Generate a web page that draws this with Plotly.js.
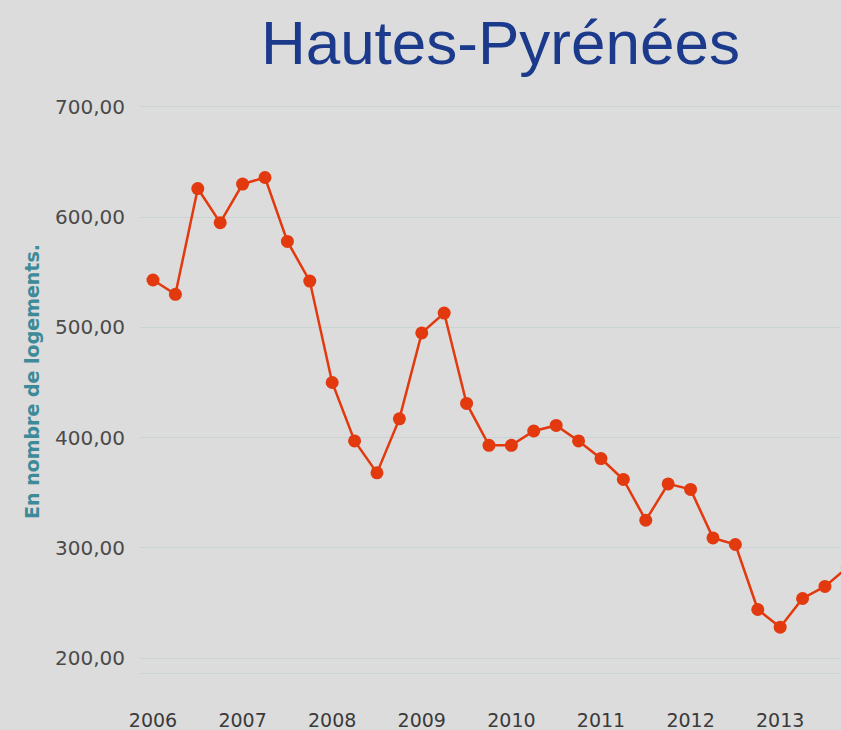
<!DOCTYPE html>
<html>
<head>
<meta charset="utf-8">
<script src="https://cdn.plot.ly/plotly-3.0.1.min.js"></script>
<style>html,body{margin:0;padding:0;background:#dcdcdc;}#chart{width:841px;height:730px;}</style>
</head>
<body>
<div id="chart"></div>
<script>
const quarters = [2006.00, 2006.25, 2006.50, 2006.75, 2007.00, 2007.25, 2007.50, 2007.75,
                  2008.00, 2008.25, 2008.50, 2008.75, 2009.00, 2009.25, 2009.50, 2009.75,
                  2010.00, 2010.25, 2010.50, 2010.75, 2011.00, 2011.25, 2011.50, 2011.75,
                  2012.00, 2012.25, 2012.50, 2012.75, 2013.00, 2013.25, 2013.50, 2013.75];
const logements = [543, 530, 626, 595, 630, 636, 578, 542,
                   450, 397, 368, 417, 495, 513, 431, 393,
                   393, 406, 411, 397, 381, 362, 325, 358,
                   353, 309, 303, 244, 228, 254, 265, 282];
const yearTicks = [2006, 2007, 2008, 2009, 2010, 2011, 2012, 2013];
const yearLabels = ['2006', '2007', '2008', '2009', '2010', '2011', '2012', '2013'];
const yTicks = [200, 300, 400, 500, 600, 700];

const trace = {
  x: quarters, y: logements, type: 'scatter', mode: 'lines+markers',
  line: {color: '#e2390f', width: 2.5},
  marker: {color: '#e2390f', size: 13},
  cliponaxis: true, hoverinfo: 'skip'
};

const layout = {
  width: 841, height: 730,
  paper_bgcolor: '#dcdcdc', plot_bgcolor: '#dcdcdc',
  separators: ', ',
  margin: {l: 140, r: 0, t: 90, b: 57},
  showlegend: false,
  title: {text: 'Hautes-Pyrénées', x: 0.595, xanchor: 'center', y: 0.972, yanchor: 'top',
          font: {family: 'Liberation Sans, Arial, sans-serif', size: 62, color: '#1b3a8c'}},
  xaxis: {range: [2005.855, 2013.679], tickvals: yearTicks, ticktext: yearLabels,
          showgrid: false, zeroline: false, showline: true, linecolor: '#c9d3d3', linewidth: 1,
          ticks: '', ticklabelstandoff: 30,
          tickfont: {family: 'DejaVu Sans, sans-serif', size: 19, color: '#3a3a3a'}},
  yaxis: {range: [186.4, 715.4], tickvals: yTicks, tickformat: '.2f',
          showgrid: true, gridcolor: '#c9d3d3', gridwidth: 1, zeroline: false, showline: false,
          ticks: '', ticklabelstandoff: 14,
          tickfont: {family: 'DejaVu Sans, sans-serif', size: 20, color: '#4a4a4a'},
          title: {text: 'En nombre de logements.', standoff: 10,
                  font: {family: 'DejaVu Sans, sans-serif', size: 19, color: '#3d8a98', weight: 'bold'}}}
};

Plotly.newPlot('chart', [trace], layout, {displayModeBar: false, staticPlot: true});
</script>
</body>
</html>
